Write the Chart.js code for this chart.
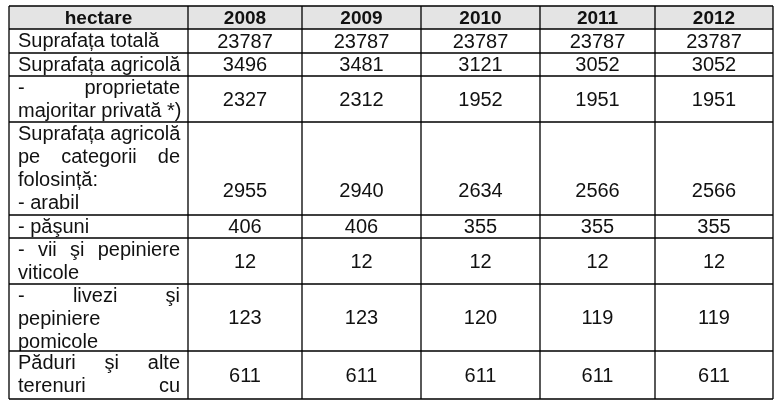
<!DOCTYPE html>
<html>
<head>
<meta charset="utf-8">
<script src="https://cdn.jsdelivr.net/npm/chart.js@4"></script>
<style>
  html, body { margin: 0; padding: 0; background: #fff; }
  #wrap { width: 778px; height: 404px; }
</style>
</head>
<body>
<div id="wrap"><canvas id="tbl"></canvas></div>
<script>
// Date
const headerLabel = 'hectare';
const years = ['2008', '2009', '2010', '2011', '2012'];
const rowLabels = [
  ['Suprafața totală'],
  ['Suprafața agricolă'],
  ['- proprietate', 'majoritar privată *)'],
  ['Suprafața agricolă', 'pe categorii de', 'folosință:', '- arabil'],
  ['- păşuni'],
  ['- vii şi pepiniere', 'viticole'],
  ['- livezi şi', 'pepiniere', 'pomicole'],
  ['Păduri şi alte', 'terenuri cu']
];
// rândurile justificate
const justified = [[], [], [0], [1], [], [0], [0], [0, 1]];
const suprafataTotala = [23787, 23787, 23787, 23787, 23787];
const suprafataAgricola = [3496, 3481, 3121, 3052, 3052];
const proprietatePrivata = [2327, 2312, 1952, 1951, 1951];
const arabil = [2955, 2940, 2634, 2566, 2566];
const pasuni = [406, 406, 355, 355, 355];
const viiPepiniere = [12, 12, 12, 12, 12];
const livezi = [123, 123, 120, 119, 119];
const paduri = [611, 611, 611, 611, 611];
const rowValues = [suprafataTotala, suprafataAgricola, proprietatePrivata, arabil,
  pasuni, viiPepiniere, livezi, paduri];

// Geometria tabelului (pixeli)
const colEdges = [9, 188, 302, 421, 540, 655, 773];
const rowEdges = [6, 29, 53, 76, 122, 215, 238, 284, 351, 399];
const valueYOffset = [0, 0, 0, 22, 0, 0, 0, 0]; // arabil e mai jos în celulă
const LINE_H = 23;
const FONT = '20px "Liberation Sans", Arial, sans-serif';
const FONT_BOLD = 'bold 19px "Liberation Sans", Arial, sans-serif';

/**
 * Desenează un rând de text justificat între x0 și x1
 */
function drawJustified(ctx, text, x0, x1, y) {
  const words = text.split(' ');
  if (words.length < 2) { ctx.fillText(text, x0, y); return; }
  const total = words.reduce((s, w) => s + ctx.measureText(w).width, 0);
  const gap = (x1 - x0 - total) / (words.length - 1);
  let x = x0;
  words.forEach(w => {
    ctx.fillText(w, x, y);
    x += ctx.measureText(w).width + gap;
  });
}

const tablePlugin = {
  id: 'tablePlugin',
  afterDraw(chart) {
    const { ctx, scales: { x, y } } = chart;
    const px = v => x.getPixelForValue(v);
    const py = v => y.getPixelForValue(v);
    ctx.save();

    // fundal antet
    ctx.fillStyle = '#e4e4e4';
    ctx.fillRect(px(colEdges[0]), py(rowEdges[0]), px(colEdges[6]) - px(colEdges[0]), py(rowEdges[1]) - py(rowEdges[0]));

    // text antet
    ctx.fillStyle = '#111';
    ctx.font = FONT_BOLD;
    ctx.textAlign = 'center';
    ctx.textBaseline = 'middle';
    const hy = (py(rowEdges[0]) + py(rowEdges[1])) / 2 + 1;
    ctx.fillText(headerLabel, (px(colEdges[0]) + px(colEdges[1])) / 2, hy);
    years.forEach((yr, i) => {
      ctx.fillText(yr, (px(colEdges[i + 1]) + px(colEdges[i + 2])) / 2, hy);
    });

    // corp tabel
    ctx.font = FONT;
    rowLabels.forEach((lines, r) => {
      const top = py(rowEdges[r + 1]);
      const bot = py(rowEdges[r + 2]);
      ctx.save();
      ctx.beginPath();
      ctx.rect(px(colEdges[0]), top, px(colEdges[6]) - px(colEdges[0]), bot - top);
      ctx.clip();
      ctx.textAlign = 'left';
      const x0 = px(colEdges[0]) + 9, x1 = px(colEdges[1]) - 8;
      lines.forEach((ln, k) => {
        const ly = top + 12 + k * LINE_H;
        if (justified[r].includes(k)) drawJustified(ctx, ln, x0, x1, ly);
        else ctx.fillText(ln, x0, ly);
      });
      ctx.textAlign = 'center';
      const vy = (top + bot) / 2 + 1 + valueYOffset[r];
      rowValues[r].forEach((v, i) => {
        ctx.fillText(String(v), (px(colEdges[i + 1]) + px(colEdges[i + 2])) / 2, vy);
      });
      ctx.restore();
    });

    // linii
    ctx.strokeStyle = '#000';
    ctx.lineWidth = 1.3;
    ctx.beginPath();
    rowEdges.forEach(e => {
      ctx.moveTo(px(colEdges[0]), py(e));
      ctx.lineTo(px(colEdges[6]), py(e));
    });
    colEdges.forEach(e => {
      ctx.moveTo(px(e), py(rowEdges[0]));
      ctx.lineTo(px(e), py(rowEdges[rowEdges.length - 1]));
    });
    ctx.stroke();
    ctx.restore();
  }
};

new Chart(document.getElementById('tbl'), {
  type: 'scatter',
  data: { datasets: [{ data: [] }] },
  options: {
    responsive: true,
    maintainAspectRatio: false,
    animation: false,
    layout: { padding: 0 },
    plugins: { legend: { display: false }, tooltip: { enabled: false } },
    scales: {
      x: { type: 'linear', min: 0, max: 778, display: false },
      y: { type: 'linear', min: 0, max: 404, reverse: true, display: false }
    }
  },
  plugins: [tablePlugin]
});
</script>
</body>
</html>
